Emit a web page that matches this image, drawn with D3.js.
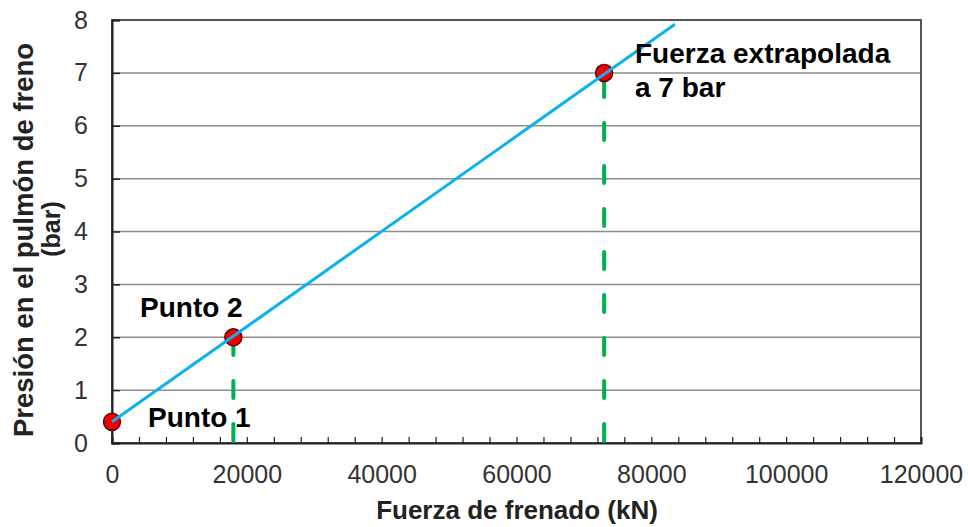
<!DOCTYPE html>
<html>
<head>
<meta charset="utf-8">
<script src="https://cdn.jsdelivr.net/npm/d3@7"></script>
<style>
  html, body { margin: 0; padding: 0; background: #fff; }
  svg { display: block; font-family: "Liberation Sans", Arial, sans-serif; }
</style>
</head>
<body>
<svg id="chart" width="968" height="527"></svg>
<script>
// ---- data ----
const xTickValues = [0, 20000, 40000, 60000, 80000, 100000, 120000];
const yTickValues = [0, 1, 2, 3, 4, 5, 6, 7, 8];
const pointNames = ["Punto 1", "Punto 2", "Fuerza extrapolada"];
const pointForce = [0, 18000, 73000];
const pointPressure = [0.4, 2, 7];
const fitForce = [0, 83500];
const fitPressure = [0.4, 7.92];
const guideForce = [18000, 73000];
const guidePressure = [2, 7];
const xTitle = "Fuerza de frenado (kN)";
const yTitleLines = ["Presión  en el pulmón de freno", "(bar)"];

// ---- layout ----
const svg = d3.select("#chart");
const x = d3.scaleLinear().domain([0, 120000]).range([112, 921]);
const y = d3.scaleLinear().domain([0, 8]).range([443, 20]);

// gridlines
svg.append("g")
  .selectAll("line")
  .data(yTickValues.filter(v => v > 0 && v < 8))
  .join("line")
  .attr("x1", x(0)).attr("x2", x(120000))
  .attr("y1", d => y(d)).attr("y2", d => y(d))
  .attr("stroke", "#8c8c8c").attr("stroke-width", 1.5);

// frame
svg.append("rect")
  .attr("x", x(0)).attr("y", y(8))
  .attr("width", x(120000) - x(0)).attr("height", y(0) - y(8))
  .attr("fill", "none").attr("stroke", "#555").attr("stroke-width", 2);

// x axis (minor ticks inward)
const xMinor = d3.range(0, 120001, 4000);
const xAxis = d3.axisBottom(x).tickValues(xMinor).tickSize(-6).tickFormat("");
const gx = svg.append("g").attr("transform", `translate(0,${y(0)})`).call(xAxis);
gx.select(".domain").attr("stroke", "#222").attr("stroke-width", 2);
gx.selectAll(".tick line").attr("stroke", "#222").attr("stroke-width", 1.2);

const xLabels = d3.axisBottom(x).tickValues(xTickValues).tickSize(0).tickPadding(0).tickFormat(d3.format("d"));
const gxl = svg.append("g").attr("transform", `translate(0,${y(0) + 40})`).call(xLabels);
gxl.select(".domain").remove();
gxl.selectAll("text").attr("font-size", 25).attr("fill", "#333")
  .attr("font-family", "'Liberation Sans', Arial, sans-serif").attr("dy", 0).attr("y", 0);

// y axis
const yAxis = d3.axisLeft(y).tickValues(yTickValues).tickSize(-8).tickPadding(24).tickFormat(d3.format("d"));
const gy = svg.append("g").attr("transform", `translate(${x(0)},0)`).call(yAxis);
gy.select(".domain").attr("stroke", "#222").attr("stroke-width", 2);
gy.selectAll(".tick line").attr("stroke", "#222").attr("stroke-width", 1.5);
gy.selectAll("text").attr("font-size", 25).attr("fill", "#333")
  .attr("font-family", "'Liberation Sans', Arial, sans-serif");

// green dashed guides (drawn from axis upward)
svg.append("g")
  .selectAll("line")
  .data(guideForce.map((f, i) => ({ f, p: guidePressure[i] })))
  .join("line")
  .attr("x1", d => x(d.f)).attr("x2", d => x(d.f))
  .attr("y1", y(0) - 2).attr("y2", d => y(d.p))
  .attr("stroke", "#00b050").attr("stroke-width", 4)
  .attr("stroke-dasharray", "17,26").attr("stroke-linecap", "round");

// fit line
const lineGen = d3.line().x(d => x(d[0])).y(d => y(d[1]));

// points
svg.append("g")
  .selectAll("circle")
  .data(pointForce.map((f, i) => ({ f, p: pointPressure[i] })))
  .join("circle")
  .attr("cx", d => x(d.f)).attr("cy", d => y(d.p)).attr("r", 8.5)
  .attr("fill", "#f00000").attr("stroke", "#5a0000").attr("stroke-width", 1.5);

svg.append("path")
  .datum(fitForce.map((f, i) => [f, fitPressure[i]]))
  .attr("d", lineGen)
  .attr("fill", "none").attr("stroke", "#0db1ec").attr("stroke-width", 3);

// annotations
const ann = svg.append("g").attr("font-weight", "bold").attr("font-size", 28).attr("fill", "#000");
ann.append("text").attr("x", 140).attr("y", 317).text(pointNames[1]);
ann.append("text").attr("x", 148).attr("y", 427).text(pointNames[0]);
const t3 = ann.append("text").attr("x", 635).attr("y", 63);
t3.append("tspan").attr("x", 635).text("Fuerza extrapolada");
t3.append("tspan").attr("x", 635).attr("dy", 34).text("a 7 bar");

// axis titles
svg.append("text")
  .attr("x", 517).attr("y", 519)
  .attr("text-anchor", "middle")
  .attr("font-weight", "bold").attr("font-size", 26).attr("fill", "#222")
  .text(xTitle);

const yt = svg.append("g");
yt.append("text")
  .attr("transform", "translate(33,240) rotate(-90)")
  .attr("text-anchor", "middle")
  .attr("font-weight", "bold").attr("font-size", 27.5).attr("fill", "#222")
  .text(yTitleLines[0]);
yt.append("text")
  .attr("transform", "translate(60,229) rotate(-90)")
  .attr("text-anchor", "middle")
  .attr("font-weight", "bold").attr("font-size", 25).attr("fill", "#222")
  .text(yTitleLines[1]);
</script>
</body>
</html>
